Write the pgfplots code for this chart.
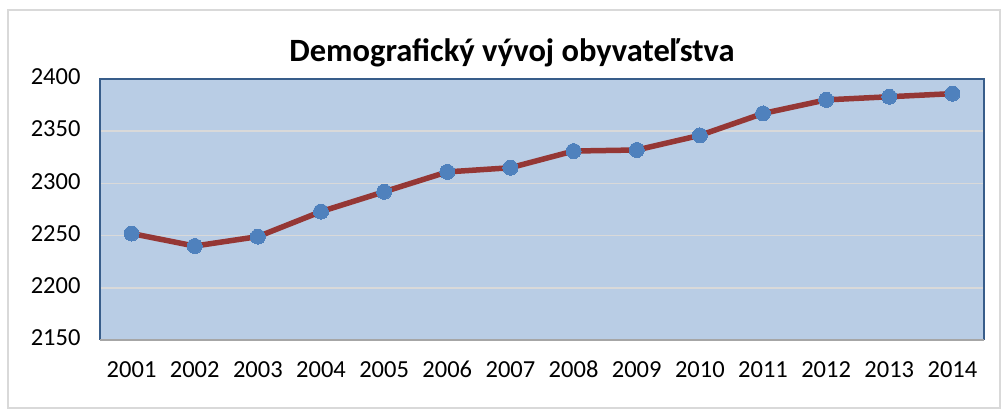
\documentclass[border=0pt]{standalone}
\usepackage{pgfplots}
\pgfplotsset{compat=1.18}
\usepackage{fontspec}
\setmainfont{Carlito}
\definecolor{plotbg}{HTML}{B9CDE5}
\definecolor{linered}{HTML}{953735}
\definecolor{markblue}{HTML}{4F81BD}
\definecolor{frameblue}{HTML}{385D8A}
\definecolor{gridgray}{HTML}{D9D9D9}
\begin{document}
\begin{tikzpicture}[x=1pt,y=1pt]
\useasboundingbox (0,0) rectangle (1001,409);
\draw[gridgray,line width=1.5pt] (8,1) rectangle (1000,399);
\node[font=\fontsize{32.5}{38}\selectfont\bfseries,anchor=base] at (512,347) {Demografický vývoj obyvateľstva};
\begin{axis}[
  at={(100pt,69pt)}, anchor=south west,
  scale only axis, width=884pt, height=261pt,
  xmin=0.5, xmax=14.5, ymin=2150, ymax=2400,
  xtick={1,...,14},
  xticklabels={2001,2002,2003,2004,2005,2006,2007,2008,2009,2010,2011,2012,2013,2014},
  ytick={2150,2200,...,2400},
  /pgf/number format/assume math mode=true,
  /pgf/number format/1000 sep={},
  ticklabel style={font=\fontsize{24.5}{29}\selectfont},
  major tick length=0pt,
  typeset ticklabels with strut,
  xticklabel style={anchor=base, yshift=-38pt},
  yticklabel style={xshift=-16pt},
  axis background/.style={fill=plotbg},
  ymajorgrids, grid style={gridgray,line width=1.5pt},
  axis line style={frameblue,line width=2pt},
  axis x line*=bottom,
  clip=false,
]
\addplot[linered,line width=5.5pt,mark=*,mark size=7.5pt,mark options={fill=markblue,draw=markblue,line width=0pt}]
coordinates {(1,2252) (2,2240) (3,2249) (4,2273) (5,2292) (6,2311) (7,2315) (8,2331) (9,2332) (10,2346) (11,2367) (12,2380) (13,2383) (14,2386)};
\end{axis}
\draw[frameblue,line width=2pt] (100,69) -- (100,330) -- (984,330) -- (984,69);
\draw[gray!70,line width=2pt] (100,69) -- (984,69);
\end{tikzpicture}
\end{document}
